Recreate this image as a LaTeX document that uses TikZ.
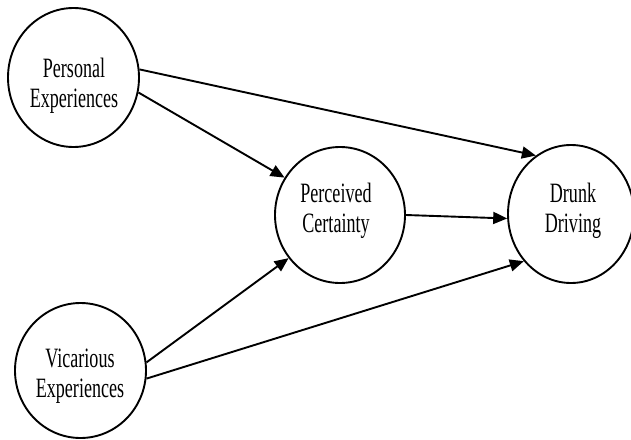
\documentclass[tikz,border=0pt]{standalone}
\usepackage{fontspec}
\newfontfamily\condserif[FakeStretch=0.645]{Liberation Serif}
\usetikzlibrary{shapes.geometric,arrows.meta}
\tikzset{
  construct/.style={draw, ellipse, line width=1.9pt, inner sep=0pt},
  lbl/.style={align=center, inner sep=0pt, font=\condserif\fontsize{28}{30}\selectfont},
  path/.style={line width=1.9pt, -{Triangle[length=14pt,width=12pt]}}
}
\begin{document}
\begin{tikzpicture}[x=1pt,y=-1pt]
\useasboundingbox (0,0) rectangle (631,439);
\node[construct, minimum width=131pt, minimum height=139pt] (pe) at (73.5,77.5) {};
\node[construct, minimum width=130pt, minimum height=136pt] (pc) at (340,215) {};
\node[construct, minimum width=126pt, minimum height=138pt] (dd) at (571,214) {};
\node[construct, minimum width=131pt, minimum height=135pt] (ve) at (80.5,370.5) {};
\node[lbl] (pet) at (74,86) {Personal\\Experiences};
\node[lbl] (pct) at (336,211) {Perceived\\Certainty};
\node[lbl] (ddt) at (573,211) {Drunk\\Driving};
\node[lbl] (vet) at (80,376) {Vicarious\\Experiences};
\draw[path] (pe.7.4) -- (dd.121.3);
\draw[path] (pe.-13.7) -- (pc.146);
\draw[path] (pc.0) -- (dd.184);
\draw[path] (ve.7.5) -- (pc.220.3);
\draw[path] (ve.-7.5) -- (dd.225);
\end{tikzpicture}
\end{document}
